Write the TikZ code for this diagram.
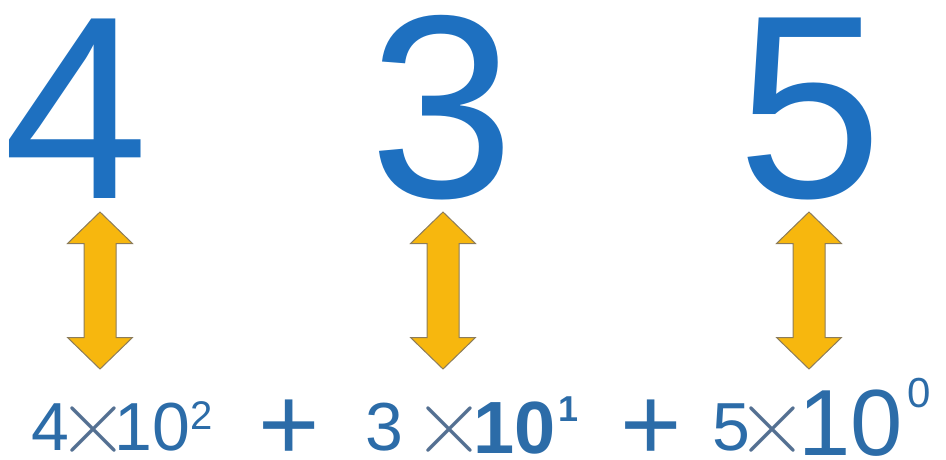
\documentclass[tikz,border=0pt]{standalone}
\usepackage{fontspec}
\setmainfont{Liberation Sans}
\newfontfamily\crossfont{Latin Modern Roman}
\usepackage{tikz}
\definecolor{digitblue}{RGB}{30,112,192}
\definecolor{termblue}{RGB}{44,108,168}
\definecolor{timesgray}{RGB}{84,112,146}
\definecolor{arrowfill}{RGB}{247,183,14}
\definecolor{arrowline}{RGB}{140,124,90}
\newcommand{\fsz}[1]{\fontsize{#1}{#1}\selectfont}
\tikzset{
  bigdigit/.style={inner sep=0pt, text=digitblue, font=\fsz{261}},
  term/.style={inner sep=0pt, text=termblue, font=\fsz{68}},
  expo/.style={inner sep=0pt, text=termblue, font=\fsz{40}},
  timesmark/.style={inner sep=0pt, text=timesgray, font=\crossfont\fsz{100}},
  plusmark/.style={inner sep=0pt, text=termblue, font=\fsz{105}},
  updown/.pic={
    \draw[arrowline, fill=arrowfill, line width=1pt]
      (0,-78.5) -- (32.5,-47) -- (16,-47) -- (16,47) -- (32.5,47)
      -- (0,78.5) -- (-32.5,47) -- (-16,47) -- (-16,-47) -- (-32.5,-47) -- cycle;
  }
}

\begin{document}
\begin{tikzpicture}[x=1pt, y=-1pt]
  \useasboundingbox (0,0) rectangle (946,459);

  % digits of the number
  \node[bigdigit] (hundreds) at (76,108.5) {4};
  \node[bigdigit] (tens) at (442,108) {3};
  \node[bigdigit] (ones) at (810,109) {5};

  % arrows between digit and term
  \pic (arrowh) at (100,290.5) {updown};
  \pic (arrowt) at (443,290.5) {updown};
  \pic (arrowo) at (809,290.5) {updown};

  % 4 x 10^2
  \node[term] (coefh) at (50,427.5) {4};
  \node[timesmark] (timesh) at (93.5,430) {×};
  \node[term] (baseh) at (152.5,427.5) {10};
  \node[expo] (powh) at (202,416) {2};

  \node[plusmark] (plusa) at (289,430) {+};

  % 3 x 10^1
  \node[term] (coeft) at (384.5,427.5) {3};
  \node[timesmark] (timest) at (449.5,430) {×};
  \node[term, font=\fsz{74}\bfseries] (baset) at (515,428.5) {10};
  \node[expo, font=\fsz{36}\bfseries] (powt) at (568.5,409.5) {1};

  \node[plusmark] (plusb) at (651.5,430) {+};

  % 5 x 10^0
  \node[term] (coefo) at (731.5,427.5) {5};
  \node[timesmark] (timeso) at (772.5,430) {×};
  \node[term, font=\fsz{94}] (baseo) at (851,423.5) {10};
  \node[expo, font=\fsz{42}] (powo) at (919,393) {0};
\end{tikzpicture}
\end{document}
